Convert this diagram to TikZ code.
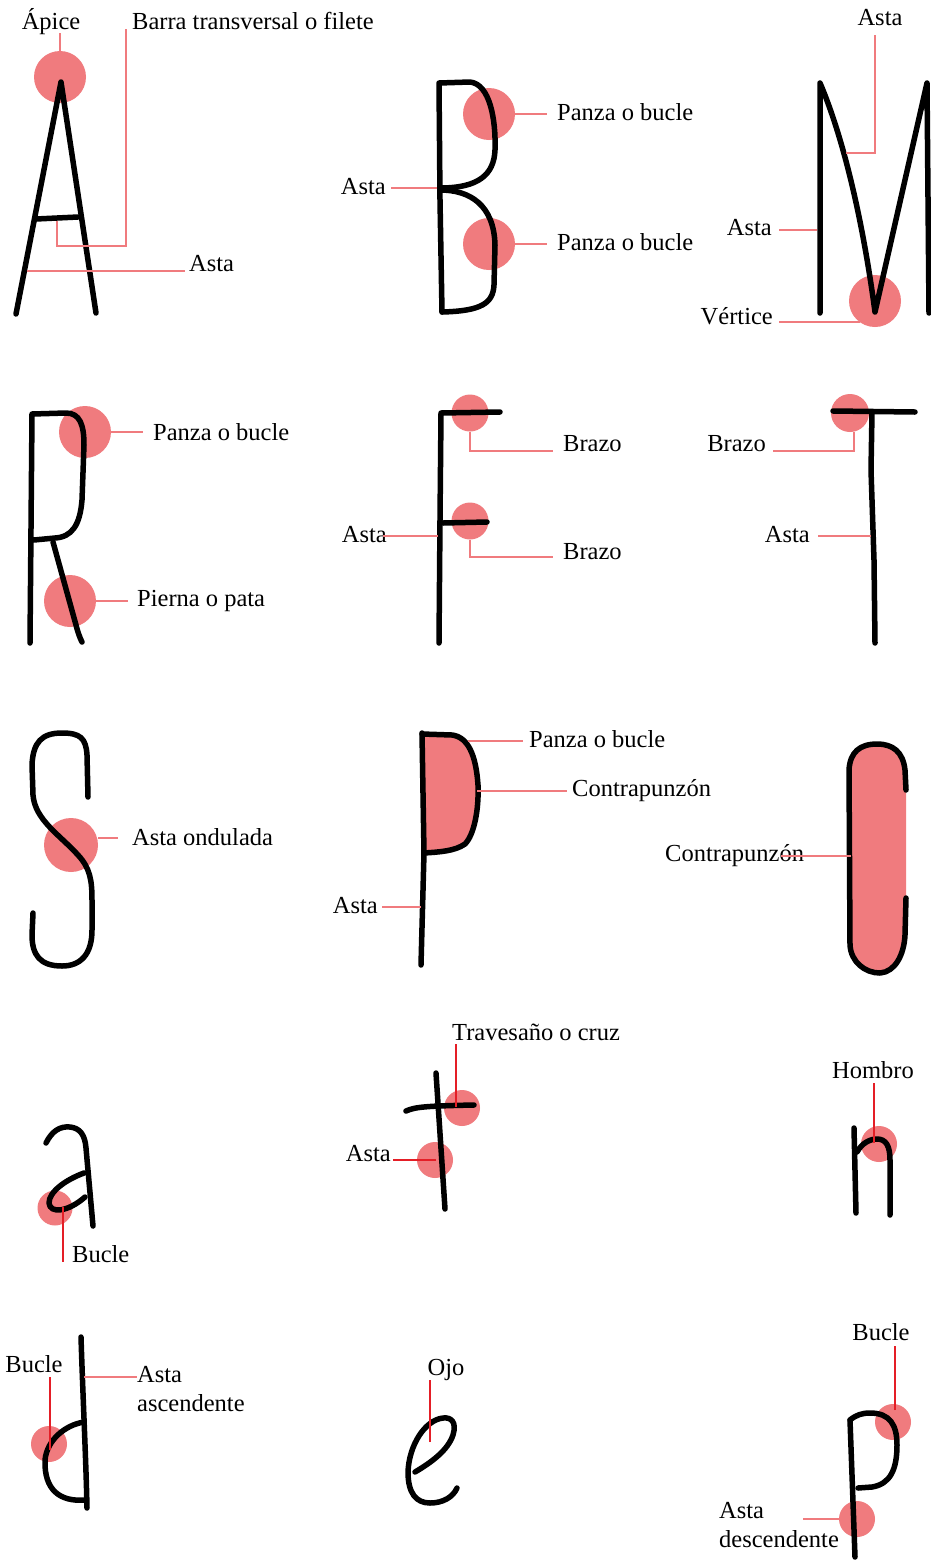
\documentclass[tikz,border=0pt]{standalone}
\usepackage{fontspec}
\setmainfont{Liberation Serif}
\usetikzlibrary{calc}
\definecolor{pk}{RGB}{240,123,126}
\definecolor{rd}{RGB}{228,30,38}
\tikzset{
  glyph/.style={line width=5.5pt, line cap=round, line join=round, draw=black},
  spot/.style={circle, fill=pk, draw=none, inner sep=0pt, minimum size=#1},
  lbl/.style={font=\fontsize{24.5}{29}\selectfont, inner sep=0pt, text=black},
  pl/.style={draw=pk, line width=2pt},
  rl/.style={draw=rd, line width=2pt},
}
\begin{document}
\begin{tikzpicture}[x=1pt,y=-1pt]
\fill[white] (0,0) rectangle (931,1564);
\useasboundingbox (0,0) rectangle (931,1564);

% ---------------- Row 1 : A ----------------
\node[spot=52pt] (apx) at (60,77) {};
\draw[glyph] (16,314) -- (61,82) -- (96,313);
\draw[glyph] (36,219) -- (78,217);
\node[lbl, anchor=base] (tApice) at (51,29) {Ápice};
\draw[pl] (apx.north) -- ($(apx.north |- tApice.base)+(0,4)$);
\node[lbl, anchor=base west] (tBarra) at (132,29) {Barra transversal o filete};
\coordinate (aBar) at (57,221);
\draw[pl] ($(tBarra.base west)+(-6,0)$) -- ++(0,217) -| (aBar);
\coordinate (aLeg) at (27,271);
\node[lbl, anchor=base west] (tAstaA) at (189,271) {Asta};
\draw[pl] (aLeg) -- ($(aLeg -| tAstaA.west)+(-4,0)$);

% ---------------- Row 1 : B ----------------
\node[spot=52pt] (b1) at (489,114) {};
\node[spot=52pt] (b2) at (489,244) {};
\draw[glyph] (442,312) -- (440,200) -- (439,83) -- (470,82)
  .. controls (490,84) and (496,120) .. (495,150)
  .. controls (494,175) and (478,188) .. (440,188);
\draw[glyph] (440,190) .. controls (470,190) and (494,205) .. (495,245)
  -- (494,285) .. controls (493,303) and (482,311) .. (442,312);
\node[lbl, anchor=base west] (tB1) at (557,120) {Panza o bucle};
\node[lbl, anchor=base west] (tB2) at (557,250) {Panza o bucle};
\draw[pl] (b1.east) -- ($(b1.east -| tB1.west)+(-10,0)$);
\draw[pl] (b2.east) -- ($(b2.east -| tB2.west)+(-10,0)$);
\coordinate (bStem) at (437,188);
\node[lbl, anchor=base east] (tAstaB) at (386,194) {Asta};
\draw[pl] (bStem) -- ($(bStem -| tAstaB.east)+(5,0)$);

% ---------------- Row 1 : M ----------------
\node[spot=52pt] (mv) at (875,301) {};
\draw[glyph] (820,313) -- (820,83) .. controls (838,125) and (860,200) .. (875,312)
  -- (927,83) -- (929,313);
\node[lbl, anchor=base] (tAstaM1) at (880,25) {Asta};
\coordinate (mDiag) at (846,153);
\draw[pl] (mDiag) -| ($(tAstaM1.base)+(-5,10)$);
\coordinate (mStem) at (817,230);
\node[lbl, anchor=base east] (tAstaM2) at (772,235) {Asta};
\draw[pl] (mStem) -- ($(mStem -| tAstaM2.east)+(7,0)$);
\node[lbl, anchor=base east] (tVert) at (773,324) {Vértice};
\draw[pl] (mv.234) -- ($(mv.234 -| tVert.east)+(6,0)$);

% ---------------- Row 2 : R ----------------
\node[spot=52pt] (r1) at (85,432) {};
\node[spot=52pt] (r2) at (70,601) {};
\draw[glyph] (30,643) -- (32,414) -- (66,413) .. controls (80,413) and (84,425) .. (84,445)
  -- (82,500) .. controls (80,525) and (72,537) .. (55,538) -- (34,540);
\draw[glyph] (53,542) -- (76,625) .. controls (78,633) and (80,638) .. (82,642);
\node[lbl, anchor=base west] (tR1) at (153,440) {Panza o bucle};
\node[lbl, anchor=base west] (tR2) at (137,606) {Pierna o pata};
\draw[pl] (r1.east) -- ($(r1.east -| tR1.west)+(-10,0)$);
\draw[pl] (r2.east) -- ($(r2.east -| tR2.west)+(-9,0)$);

% ---------------- Row 2 : F ----------------
\node[spot=37pt] (f1) at (470,413) {};
\node[spot=37pt] (f2) at (470,521) {};
\draw[glyph] (439,643) -- (440,520) -- (441,413) -- (500,412);
\draw[glyph] (443,523) -- (487,522);
\node[lbl, anchor=base west] (tBr1) at (563,451) {Brazo};
\node[lbl, anchor=base west] (tBr2) at (563,559) {Brazo};
\draw[pl] (f1.south) |- ($(tBr1.base west)+(-10,0)$);
\draw[pl] (f2.south) |- ($(tBr2.base west)+(-10,-2)$);
\coordinate (fStem) at (438,536);
\node[lbl, anchor=base east] (tAstaF) at (387,542) {Asta};
\draw[pl] (fStem) -- ($(fStem -| tAstaF.east)+(-4,0)$);

% ---------------- Row 2 : T ----------------
\node[spot=38pt] (tc) at (850,413) {};
\draw[glyph] (833,411) -- (915,412);
\draw[glyph] (872,413) -- (871,470) -- (874,560) -- (875,643);
\node[lbl, anchor=base east] (tBrT) at (766,451) {Brazo};
\draw[pl] ($(tc.south)+(4,0)$) |- ($(tBrT.base east)+(7,0)$);
\coordinate (tStem) at (871,536);
\node[lbl, anchor=base east] (tAstaT) at (810,542) {Asta};
\draw[pl] (tStem) -- ($(tStem -| tAstaT.east)+(8,0)$);

% ---------------- Row 3 : S ----------------
\node[spot=54pt] (sc) at (71,845) {};
\draw[glyph] (88,797) -- (87,755) .. controls (86,738) and (80,733) .. (62,733)
  .. controls (42,733) and (33,742) .. (32,765) -- (33,795)
  .. controls (35,820) and (60,835) .. (78,855)
  .. controls (90,868) and (92,880) .. (92,900) -- (92,930)
  .. controls (92,955) and (80,966) .. (62,966)
  .. controls (40,966) and (32,955) .. (32,935) -- (33,913);
\node[lbl, anchor=base west] (tSond) at (132,845) {Asta ondulada};
\draw[pl] ($(sc.east)+(0,-7)$) -- ($(sc.east -| tSond.west)+(-14,-7)$);

% ---------------- Row 3 : P ----------------
\fill[pk] (424,736) -- (452,736) .. controls (468,738) and (476,755) .. (478,785)
  .. controls (479,810) and (474,835) .. (465,844)
  .. controls (455,851) and (440,852) .. (424,853) -- cycle;
\draw[glyph] (421,965) -- (424,853) -- (422,733);
\draw[glyph] (422,734) -- (452,735) .. controls (468,737) and (476,755) .. (478,785)
  .. controls (479,810) and (474,835) .. (465,844)
  .. controls (455,851) and (440,852) .. (424,853);
\coordinate (pTop) at (468,741);
\coordinate (pRight) at (477,791);
\node[lbl, anchor=base west] (tPP) at (529,747) {Panza o bucle};
\node[lbl, anchor=base west] (tPC) at (572,796) {Contrapunzón};
\draw[pl] (pTop) -- ($(pTop -| tPP.west)+(-6,0)$);
\draw[pl] (pRight) -- ($(pRight -| tPC.west)+(-5,0)$);
\coordinate (pStem) at (421,907);
\node[lbl, anchor=base east] (tAstaP) at (378,913) {Asta};
\draw[pl] (pStem) -- ($(pStem -| tAstaP.east)+(4,0)$);

% ---------------- Row 3 : counter shape ----------------
\fill[pk] (906,790) -- (905,770) .. controls (903,752) and (893,744) .. (877,744)
  .. controls (860,744) and (850,752) .. (849,770) -- (850,945)
  .. controls (851,962) and (865,973) .. (880,973)
  .. controls (895,972) and (904,955) .. (905,935) -- (906,898) -- cycle;
\draw[glyph] (906,790) -- (905,770) .. controls (903,752) and (893,744) .. (877,744)
  .. controls (860,744) and (850,752) .. (849,770) -- (850,945)
  .. controls (851,962) and (865,973) .. (880,973)
  .. controls (895,972) and (904,955) .. (905,935) -- (906,898);
\node[lbl, anchor=base west] (tCC) at (665,861) {Contrapunzón};
\coordinate (cFill) at (851,856);
\draw[pl] (cFill) -- ($(cFill -| tCC.east)+(-23,0)$);

% ---------------- Row 4 : a ----------------
\node[spot=35pt] (ac) at (55,1208) {};
\draw[glyph] (46,1143) .. controls (52,1131) and (60,1126) .. (70,1127)
  .. controls (80,1128) and (85,1135) .. (86,1148) -- (93,1226);
\draw[glyph] (84,1173) .. controls (65,1180) and (49,1192) .. (49,1203)
  .. controls (50,1214) and (68,1212) .. (85,1197);
\coordinate (aLoop) at (63,1207);
\node[lbl, anchor=base west] (tBucA) at (72,1262) {Bucle};
\draw[rl] (aLoop) -- (aLoop |- tBucA.base);

% ---------------- Row 4 : t ----------------
\node[spot=36pt] (tcr) at (462,1108) {};
\node[spot=36pt] (tst) at (435,1160) {};
\draw[glyph] (436,1073) -- (445,1209);
\draw[glyph] (406,1111) .. controls (415,1107) and (425,1106) .. (474,1105);
\node[lbl, anchor=base west] (tTrav) at (452,1040) {Travesaño o cruz};
\coordinate (tBar) at (456,1107);
\draw[rl] (tBar) -- ($(tBar |- tTrav.base)+(0,4)$);
\coordinate (tStemL) at (436,1160);
\node[lbl, anchor=base east] (tAstat) at (391,1161) {Asta};
\draw[rl] (tStemL) -- ($(tStemL -| tAstat.east)+(2,0)$);

% ---------------- Row 4 : n ----------------
\node[spot=36pt] (nc) at (879,1144) {};
\draw[glyph] (854,1128) -- (856,1213);
\draw[glyph] (857,1152) .. controls (862,1143) and (870,1139) .. (877,1139)
  .. controls (886,1139) and (890,1146) .. (890,1160) -- (890,1215);
\node[lbl, anchor=base] (tHom) at (873,1078) {Hombro};
\coordinate (nSh) at (874,1143);
\draw[rl] (nSh) -- ($(nSh |- tHom.base)+(0,5)$);

% ---------------- Row 5 : d ----------------
\node[spot=36pt] (dc) at (49,1444) {};
\draw[glyph] (81,1337) .. controls (83,1400) and (86,1460) .. (87,1508);
\draw[glyph] (84,1422) .. controls (65,1425) and (47,1440) .. (45,1460)
  .. controls (44,1490) and (60,1502) .. (85,1500);
\node[lbl, anchor=base] (tBucD) at (34,1372) {Bucle};
\coordinate (dLoop) at (50,1450);
\draw[rl] (dLoop) -- ($(dLoop |- tBucD.base)+(0,5)$);
\node[lbl, anchor=north west, align=left] (tAsc) at (137,1366) {Asta\\ascendente};
\coordinate (dStem) at (84,1377);
\draw[pl] (dStem) -- (dStem -| tAsc.west);

% ---------------- Row 5 : e ----------------
\draw[glyph] (415,1472) .. controls (432,1462) and (448,1450) .. (453,1435)
  .. controls (457,1422) and (451,1417) .. (443,1418)
  .. controls (425,1420) and (409,1445) .. (408,1472)
  .. controls (408,1493) and (416,1503) .. (430,1503)
  .. controls (443,1503) and (453,1497) .. (457,1488);
\node[lbl, anchor=base] (tOjo) at (446,1375) {Ojo};
\coordinate (eEye) at (430,1442);
\draw[rl] (eEye) -- ($(eEye |- tOjo.base)+(0,5)$);

% ---------------- Row 5 : p ----------------
\node[spot=36pt] (pc1) at (893,1422) {};
\node[spot=36pt] (pc2) at (857,1519) {};
\draw[glyph] (850,1420) -- (855,1557);
\draw[glyph] (850,1420) .. controls (856,1415) and (862,1413) .. (870,1413)
  .. controls (890,1413) and (897,1425) .. (897,1445)
  .. controls (897,1470) and (890,1484) .. (872,1487) -- (858,1488);
\node[lbl, anchor=base] (tBucP) at (881,1340) {Bucle};
\coordinate (pLoop) at (895,1410);
\draw[rl] (pLoop) -- ($(pLoop |- tBucP.base)+(0,6)$);
\node[lbl, anchor=north west, align=left] (tDesc) at (719,1502) {Asta\\descendente};
\draw[pl] (pc2.west) -- ($(pc2.west)+(-36,0)$);
\end{tikzpicture}
\end{document}
